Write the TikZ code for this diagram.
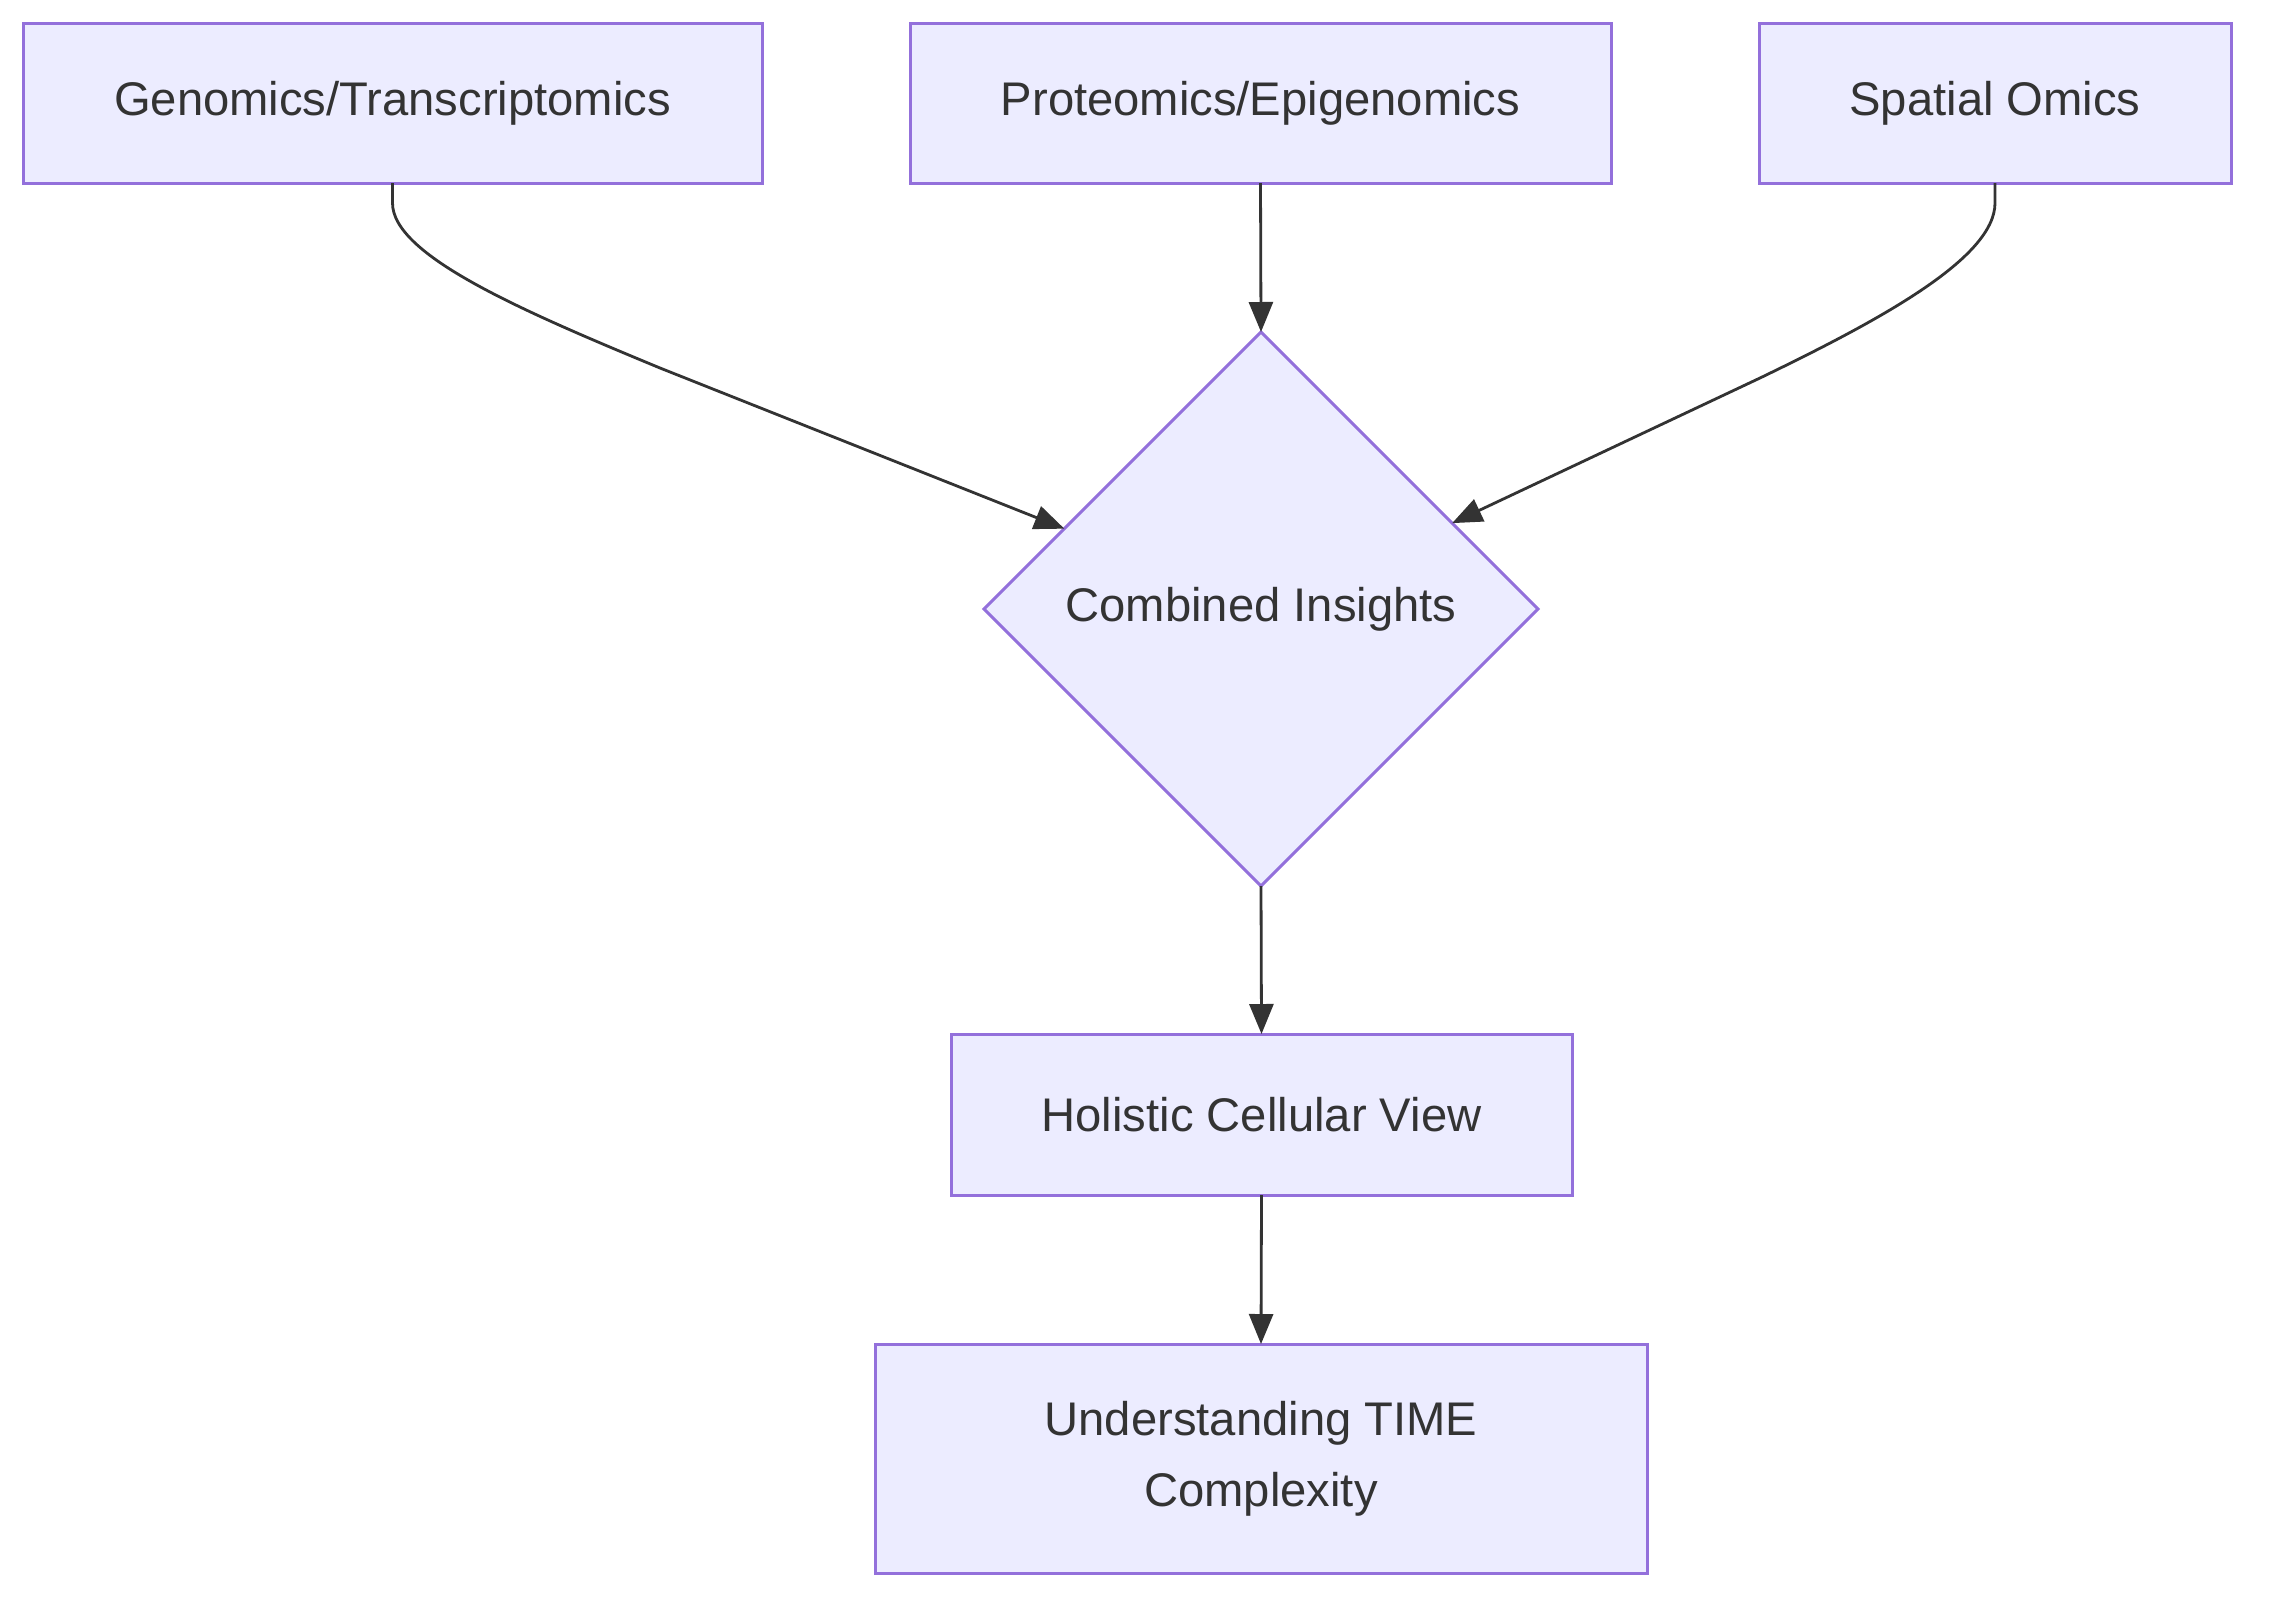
\documentclass[tikz,border=0pt]{standalone}
\usepackage{fontspec}
\setmainfont{Liberation Sans}
\usetikzlibrary{shapes.geometric,arrows.meta,calc}
\definecolor{nodefill}{HTML}{ECECFF}
\definecolor{nodeborder}{HTML}{9370DB}
\definecolor{edgecol}{HTML}{333333}
\begin{document}
\begin{tikzpicture}[x=0.5pt,y=-0.5pt,
  box/.style={draw=nodeborder, fill=nodefill, line width=1.5pt, inner sep=0pt, outer sep=0pt,
    text=edgecol, font=\fontsize{23.6}{35.5}\selectfont, align=center},
  dia/.style={box, diamond, aspect=1},
  conn/.style={draw=edgecol, line width=1.4pt, -{Triangle[length=15pt,width=12pt]}}]
\useasboundingbox (0,0) rectangle (2280,1617);
\node[box, minimum width=369.5pt, minimum height=80pt] (g) at (392.5,103) {Genomics/Transcriptomics};
\node[box, minimum width=350.5pt, minimum height=80pt] (p) at (1260.5,103) {Proteomics/Epigenomics};
\node[box, minimum width=236pt, minimum height=80pt] (s) at (1995,103) {Spatial Omics};
\node[dia, minimum width=277pt, minimum height=277pt] (c) at (1261,609) {Combined Insights};
\node[box, minimum width=310.5pt, minimum height=80.5pt] (h) at (1261.5,1114.5) {Holistic Cellular View};
\node[box, minimum width=386pt, minimum height=114.5pt] (u) at (1261,1458.5) {Understanding TIME\\Complexity};
\draw[conn] (g.south) -- ++(0,20) .. controls +(0,52) and (520,310) .. (660,368) -- ($(c.west)!0.29!(c.north)$);
\draw[conn] (p.south) -- (c.north);
\draw[conn] (s.south) -- ++(0,20) .. controls +(0,55) and (1880,320) .. (1760,378) -- ($(c.east)!0.31!(c.north)$);
\draw[conn] (c.south) -- (h.north);
\draw[conn] (h.south) -- (u.north);
\end{tikzpicture}
\end{document}
